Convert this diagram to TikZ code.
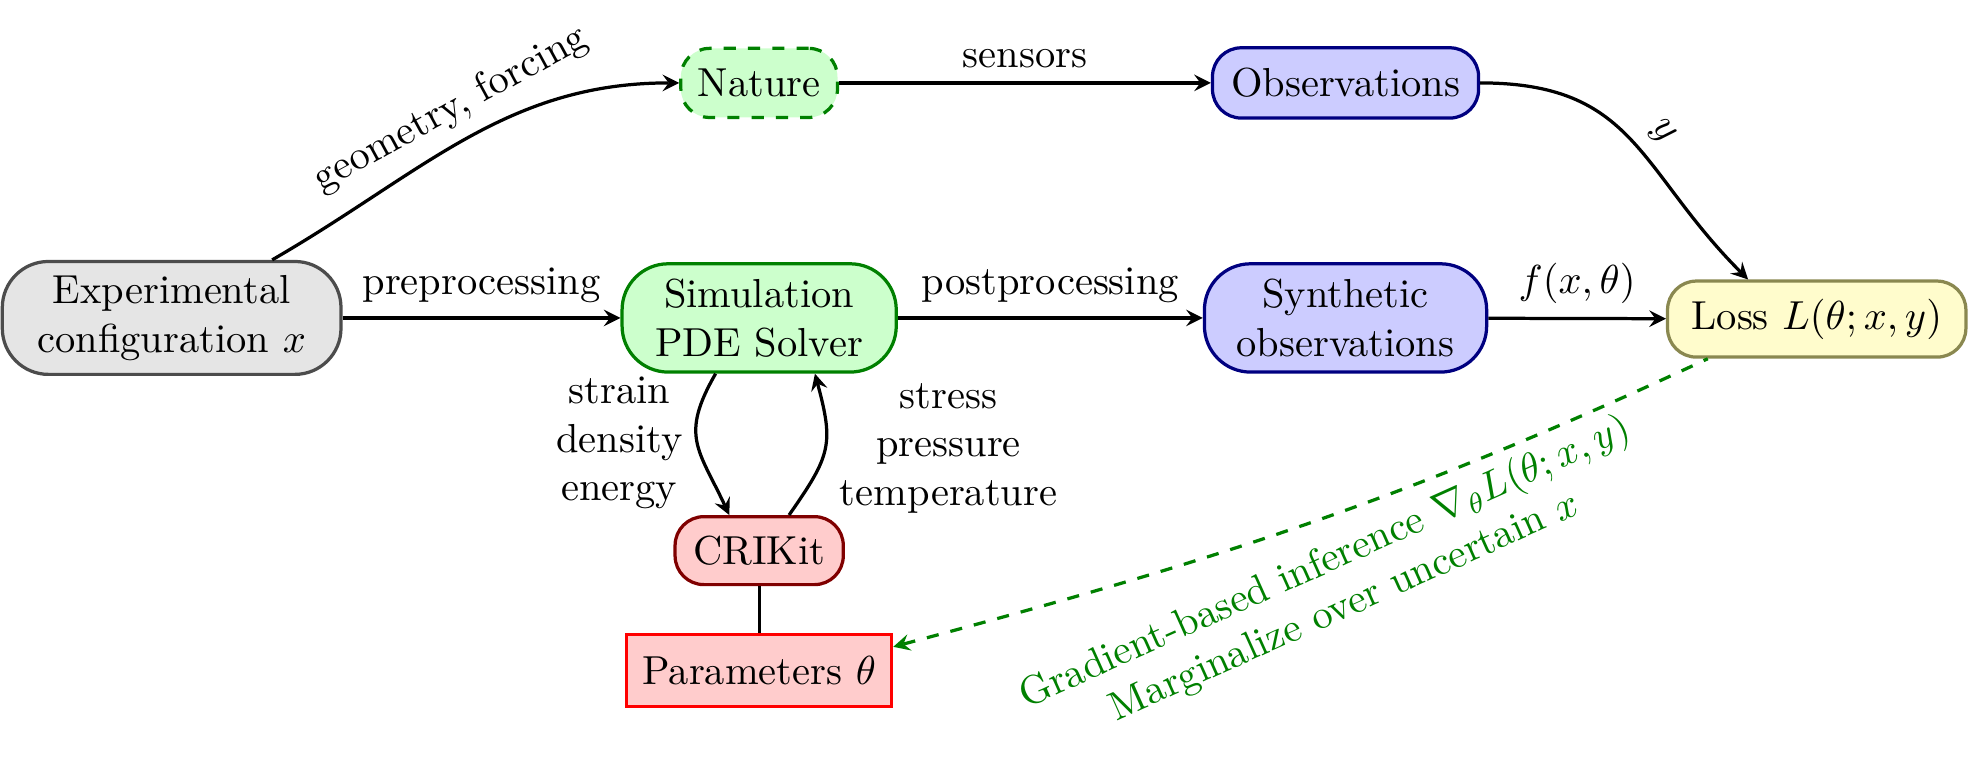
\documentclass[tikz,border=0pt]{standalone}
\definecolor{lossrand}{RGB}{138,136,80}
\begin{document}
\begin{tikzpicture}[thick, >=stealth,
		bigbox/.style={draw, rounded corners=0.4cm, align=center},
		smallbox/.style={draw, rounded corners=0.25cm, align=center},
		graubox/.style={draw=black!70, fill=black!10},
		gruenbox/.style={draw=green!50!black, fill=green!20},
		blaubox/.style={draw=blue!50!black, fill=blue!20},
		rotbox/.style={draw=red!50!black, fill=red!20}]
			\useasboundingbox (0,0) rectangle (17.17,6.68);
			% Knoten
			\node [bigbox, graubox, minimum width=2.94cm, minimum height=0.98cm] (exp) at (1.49,3.92) {Experimental\\configuration $x$};
			\node [bigbox, gruenbox, minimum width=2.38cm, minimum height=0.94cm] (sim) at (6.59,3.92) {Simulation\\PDE Solver};
			\node [bigbox, blaubox, minimum width=2.45cm, minimum height=0.94cm] (synth) at (11.68,3.92) {Synthetic\\observations};
			\node [smallbox, draw=lossrand, fill=yellow!20, minimum width=2.59cm, minimum height=0.66cm] (loss) at (15.77,3.91) {Loss $L(\theta; x, y)$};
			\node [smallbox, gruenbox, dashed, minimum width=1.36cm, minimum height=0.60cm] (nature) at (6.59,5.96) {Nature};
			\node [smallbox, blaubox, minimum width=2.31cm, minimum height=0.61cm] (obs) at (11.68,5.96) {Observations};
			\node [smallbox, rotbox, minimum width=1.46cm, minimum height=0.59cm] (crikit) at (6.59,1.90) {CRIKit};
			\node [draw=red, fill=red!20, minimum width=2.30cm, minimum height=0.63cm] (params) at (6.59,0.86) {Parameters $\theta$};
			% Hauptpfad
			\draw [->] (exp) -- node [above] {preprocessing} (sim);
			\draw [->] (sim) -- node [above] {postprocessing} (synth);
			\draw [->] (synth) -- node [above] {$f(x, \theta)$} (loss);
			% Beobachtungen
			\draw [->] (exp) to [out=30, in=180] node [above, sloped] {geometry, forcing} (nature);
			\draw [->] (nature) -- node [above] {sensors} (obs);
			\draw [->] (obs) to [out=0, in=135, looseness=1.2] node [above, sloped, pos=0.55] {$y$} (loss.150);
			% Konstitutivmodell
			\draw [->] (sim.232) to [out=240, in=115, looseness=1.3] node [left, align=center] {strain\\density\\energy} (crikit.130);
			\draw [->] (crikit.50) to [out=55, in=-75, looseness=1.3] node [right, align=center] {stress\\pressure\\temperature} (sim.-45);
			\draw (crikit) -- (params);
			% Inferenz
			\draw [<-, dashed, green!50!black] (params.10) to [out=15, in=205] node [below=2pt, sloped, rotate=5, align=center] {Gradient-based inference $\nabla_\theta L(\theta; x, y)$\\Marginalize over uncertain $x$} (loss.200);
		\end{tikzpicture}
\end{document}
